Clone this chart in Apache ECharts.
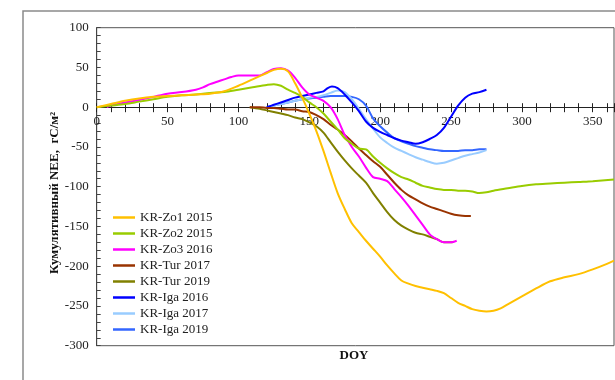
<!DOCTYPE html>
<html>
<head>
<meta charset="utf-8">
<script src="https://cdn.jsdelivr.net/npm/echarts@6/dist/echarts.min.js"></script>
<style>
  html, body { margin: 0; padding: 0; background: #fff; }
  #chart { width: 615px; height: 380px; }
</style>
</head>
<body>
<div id="chart"></div>
<script>
// Cumulative NEE (gC/m2) by day of year for each site-year
const seriesNames = ['KR-Zo1 2015', 'KR-Zo2 2015', 'KR-Zo3 2016', 'KR-Tur 2017',
                     'KR-Tur 2019', 'KR-Iga 2016', 'KR-Iga 2017', 'KR-Iga 2019'];
const seriesColors = ['#FFC000', '#99CC00', '#FF00FF', '#993300',
                      '#808000', '#0000FF', '#99CCFF', '#3366FF'];

const zo1Doy = [0, 10, 20, 30, 40, 50, 60, 70, 80, 90, 100, 110, 120, 125, 130, 135, 140, 145, 150, 155, 160, 165, 170, 175, 180, 185, 190, 195, 200, 205, 210, 215, 220, 225, 230, 235, 240, 245, 250, 255, 260, 265, 270, 275, 280, 285, 290, 300, 310, 320, 330, 340, 350, 360, 365];
const zo1Nee = [0, 4, 8, 11, 13, 14, 15, 16, 17, 20, 27, 35, 43, 47, 48.5, 45, 30, 12, -8, -30, -55, -82, -108, -128, -146, -157, -168, -178, -188, -199, -209, -218, -222, -225, -227, -229, -231, -234, -240, -246, -250, -254, -256, -257, -256, -253, -248, -238, -228, -219, -214, -210, -204, -197, -193];

const zo2Doy = [0, 10, 20, 30, 40, 50, 60, 70, 80, 90, 100, 110, 120, 125, 130, 135, 140, 145, 150, 155, 160, 165, 170, 175, 180, 185, 190, 195, 200, 205, 210, 215, 220, 225, 230, 235, 240, 245, 250, 255, 260, 265, 270, 275, 280, 290, 300, 310, 320, 330, 340, 350, 365];
const zo2Nee = [0, 2, 4, 7, 10, 13, 15, 16, 18, 19, 22, 25, 28, 29, 27, 22, 18, 13, 6, 0, -8, -18, -28, -39, -46, -52, -53, -62, -70, -77, -83, -88, -91, -95, -99, -101, -103, -104, -104, -105, -105, -106, -108, -107, -105, -102, -99, -97, -96, -95, -94, -93, -91];

const zo3Doy = [7, 10, 20, 30, 40, 50, 60, 70, 75, 80, 85, 90, 95, 100, 105, 110, 115, 120, 125, 130, 135, 140, 145, 150, 155, 160, 165, 170, 175, 180, 185, 190, 195, 200, 205, 210, 215, 220, 225, 230, 235, 240, 245, 250, 254];
const zo3Nee = [0, 2, 6, 9, 13, 17, 19, 22, 25, 29, 32, 35, 38, 40, 40, 40, 40, 44, 48, 49, 46, 37, 25, 16, 12, 8, 0, -15, -35, -50, -62, -76, -88, -90, -93, -103, -113, -124, -136, -148, -160, -166, -170, -170, -168];

const tur17Doy = [108, 115, 120, 125, 130, 135, 140, 145, 150, 155, 160, 165, 170, 175, 180, 185, 190, 195, 200, 205, 210, 215, 220, 225, 230, 235, 240, 245, 250, 255, 260, 264];
const tur17Nee = [0, 0, -1, -1, -2, -3, -3, -5, -6, -10, -15, -22, -28, -35, -43, -52, -60, -68, -75, -85, -95, -104, -111, -116, -121, -125, -128, -131, -134, -136, -137, -137];

const tur19Doy = [108, 115, 120, 125, 130, 135, 140, 145, 150, 155, 160, 165, 170, 175, 180, 185, 190, 195, 200, 205, 210, 215, 220, 225, 230, 235, 240, 245, 250, 252];
const tur19Nee = [0, -2, -4, -6, -8, -10, -13, -15, -19, -24, -32, -44, -56, -67, -77, -86, -95, -108, -120, -132, -142, -149, -154, -158, -160, -163, -166, -170, -170, -169];

const iga16Doy = [120, 125, 130, 135, 140, 145, 150, 155, 160, 163, 166, 170, 175, 180, 185, 190, 195, 200, 205, 210, 215, 220, 225, 230, 235, 240, 245, 250, 255, 260, 265, 270, 275];
const iga16Nee = [0, 3, 6, 9, 12, 14, 16, 18, 20, 24, 26, 24, 16, 6, -5, -18, -26, -31, -35, -39, -42, -44, -46, -44, -40, -35, -26, -12, 2, 12, 17, 19, 22];

const iga17Doy = [120, 125, 130, 135, 140, 145, 150, 155, 160, 165, 170, 175, 180, 185, 190, 195, 200, 205, 210, 215, 220, 225, 230, 235, 240, 245, 250, 255, 260, 265, 270, 275];
const iga17Nee = [0, 2, 4, 6, 8, 10, 12, 13, 15, 18, 21, 19, 10, -2, -15, -27, -38, -45, -51, -55, -59, -63, -66, -69, -71, -70, -67, -64, -61, -59, -57, -54];

const iga19Doy = [120, 125, 130, 135, 140, 145, 150, 155, 160, 165, 170, 175, 180, 185, 190, 195, 200, 205, 210, 215, 220, 225, 230, 235, 240, 245, 250, 255, 260, 265, 270, 275];
const iga19Nee = [0, 2, 4, 6, 8, 10, 11, 12, 13, 14, 14, 14, 13, 10, 2, -14, -24, -32, -39, -43, -46, -49, -51, -53, -54, -55, -55, -55, -54, -54, -53, -53];

const doyLists = [zo1Doy, zo2Doy, zo3Doy, tur17Doy, tur19Doy, iga16Doy, iga17Doy, iga19Doy];
const neeLists = [zo1Nee, zo2Nee, zo3Nee, tur17Nee, tur19Nee, iga16Nee, iga17Nee, iga19Nee];

const serif = '"Liberation Serif", "Times New Roman", serif';
const tickColor = '#222';

// plot box in pixels; the upper band (0..100) is a second grid whose bottom
// edge sits on the zero line and carries the DOY tick labels
const plotLeft = 96.7, plotTop = 27.7, plotRight = 1, plotBottom = 34.3;
const yMin = -300, yMax = 100;
const plotHeight = 380 - plotTop - plotBottom;
const zeroY = plotTop + plotHeight * (yMax / (yMax - yMin));

const chart = echarts.init(document.getElementById('chart'));

const series = seriesNames.map((name, i) => ({
  name: name,
  type: 'line',
  symbol: 'none',
  smooth: 0.3,
  color: seriesColors[i],
  lineStyle: { width: 2, color: seriesColors[i] },
  data: doyLists[i].map((d, k) => [d, neeLists[i][k]]),
  xAxisIndex: 0,
  yAxisIndex: 0,
  z: 10 - i
}));

chart.setOption({
  animation: false,
  backgroundColor: '#fff',
  textStyle: { fontFamily: serif },
  grid: [
    {
      left: plotLeft, top: plotTop, right: plotRight, bottom: plotBottom,
      show: true, borderColor: '#555', borderWidth: 1, backgroundColor: 'transparent'
    },
    {
      left: plotLeft, top: plotTop, right: plotRight, bottom: 380 - zeroY,
      show: false
    }
  ],
  legend: {
    orient: 'vertical',
    left: 108, top: 206,
    icon: 'rect',
    itemWidth: 22, itemHeight: 2.5, itemGap: 3,
    textStyle: { fontFamily: serif, fontSize: 13, color: '#222' },
    data: seriesNames
  },
  xAxis: [
    {
      // zero line with ticks pointing up
      gridIndex: 0,
      type: 'value', min: 0, max: 365, interval: 50,
      axisLine: { onZero: true, lineStyle: { color: tickColor, width: 1 } },
      axisTick: { show: true, inside: true, length: 4, lineStyle: { color: tickColor } },
      minorTick: { show: true, splitNumber: 5, length: 4, lineStyle: { color: tickColor } },
      axisLabel: { show: false },
      splitLine: { show: false }
    },
    {
      // same scale, ticks pointing down, with the DOY labels
      gridIndex: 1,
      type: 'value', min: 0, max: 365, interval: 50,
      position: 'bottom',
      axisLine: { show: true, onZero: false, lineStyle: { color: tickColor, width: 1 } },
      axisTick: { show: true, inside: false, length: 5, lineStyle: { color: tickColor } },
      minorTick: { show: true, splitNumber: 5, length: 5, lineStyle: { color: tickColor } },
      axisLabel: {
        fontFamily: serif, fontSize: 13, color: '#222', margin: 8,
        showMaxLabel: false
      },
      splitLine: { show: false }
    }
  ],
  yAxis: [
    {
      gridIndex: 0,
      type: 'value', min: yMin, max: yMax, interval: 50,
      axisLine: { show: true, onZero: false, lineStyle: { color: '#444', width: 1 } },
      axisTick: { show: true, inside: true, length: 4, lineStyle: { color: '#444' } },
      minorTick: { show: true, splitNumber: 5, length: 4, lineStyle: { color: '#444' } },
      axisLabel: { fontFamily: serif, fontSize: 13, color: '#222', margin: 8 },
      splitLine: { show: false }
    },
    {
      gridIndex: 1,
      type: 'value', min: 0, max: yMax,
      show: false
    }
  ],
  graphic: [
    {
      type: 'rect',
      shape: { x: 23, y: 11, width: 620, height: 400 },
      style: { fill: 'none', stroke: '#8a8a8a', lineWidth: 1.5 },
      silent: true, z: -1
    },
    {
      type: 'text',
      x: 55, y: 193,
      rotation: Math.PI / 2,
      style: {
        text: 'Кумулятивный NEE,  гС/м²',
        font: 'bold 13px ' + serif, fill: '#111',
        align: 'center', verticalAlign: 'middle'
      }
    },
    {
      type: 'text',
      x: 354, y: 356,
      style: {
        text: 'DOY', font: 'bold 13px ' + serif, fill: '#111',
        align: 'center', verticalAlign: 'middle'
      }
    }
  ],
  series: series
});
</script>
</body>
</html>
